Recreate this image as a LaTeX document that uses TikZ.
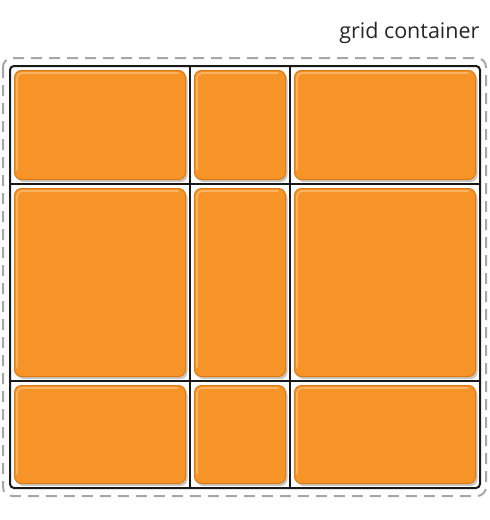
\documentclass[tikz,border=0pt]{standalone}
\usepackage{fontspec}
\setmainfont{Open Sans}
\usetikzlibrary{shadows}
\definecolor{tileorange}{RGB}{247,148,40}
\definecolor{tileedge}{RGB}{222,122,18}
\definecolor{tilelight}{RGB}{251,180,100}

\begin{document}
\begin{tikzpicture}[x=1pt,y=-1pt,
    tile/.style={draw=tileedge, line width=1pt, fill=tileorange, rounded corners=7pt, inner sep=0pt,
      drop shadow={shadow xshift=2pt, shadow yshift=-2.5pt, fill=black!22, opacity=1}},
    gloss/.style={tilelight, line width=1.8pt, line cap=round, rounded corners=5pt},
    gridline/.style={black!90, line width=2pt},
    container/.style={gray!70, line width=2pt, dash pattern=on 11pt off 7pt, rounded corners=9pt}]
      \useasboundingbox (0,0) rectangle (490,520);

      % Container and label
      \draw[container] (3,58) rectangle (486,496);
      \node[anchor=base east, font=\fontsize{21.5}{24}\selectfont, text=black!85] (label) at (483,38) {grid container};

      % Grid lines
      \draw[gridline, rounded corners=4pt] (10,66) rectangle (480,488);
      \draw[gridline] (190,66) -- (190,488);
      \draw[gridline] (290,66) -- (290,488);
      \draw[gridline] (10,184) -- (480,184);
      \draw[gridline] (10,381) -- (480,381);

      % Tiles: rows and columns
      \foreach \r/\ya/\yb in {1/66/184, 2/184/381, 3/381/488}
        \foreach \c/\xa/\xb in {1/10/190, 2/190/290, 3/290/480} {
          \node[tile, minimum width={\xb-\xa-9}, minimum height={\yb-\ya-9}] (t\r\c) at ({(\xa+\xb)/2},{(\ya+\yb)/2}) {};
          \draw[gloss] ([shift={(3,-10)}]t\r\c.south west) -- ([shift={(3,3)}]t\r\c.north west) -- ([shift={(-8,3)}]t\r\c.north east);
        }
\end{tikzpicture}
\end{document}
